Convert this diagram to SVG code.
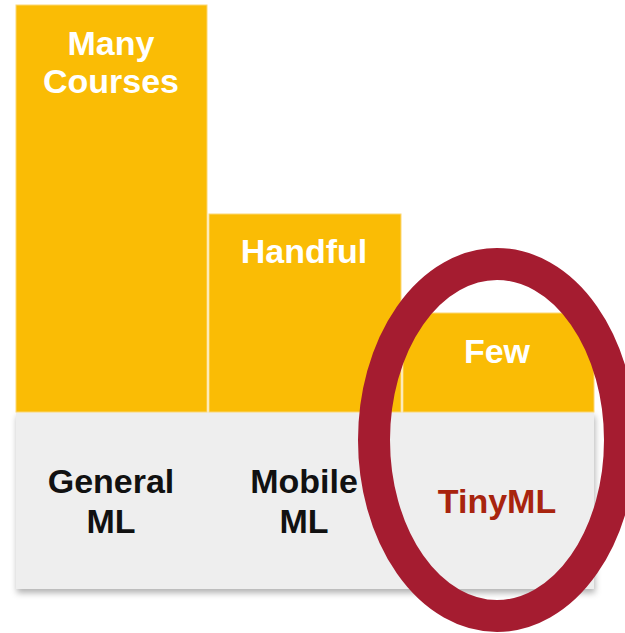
<svg xmlns="http://www.w3.org/2000/svg" width="625" height="633" viewBox="0 0 625 633">
  <defs>
    <filter id="shadow" x="-5%" y="-5%" width="115%" height="120%">
      <feDropShadow dx="1" dy="4" stdDeviation="3" flood-color="#000" flood-opacity="0.3"/>
    </filter>
    <style>
      .bar { fill: #FABC05; stroke: #FCD774; stroke-width: 1; }
      .count { font-family: "Liberation Sans", Arial, sans-serif; font-weight: bold; font-size: 34px; fill: #FFFFFF; text-anchor: middle; }
      .cat { font-family: "Liberation Sans", Arial, sans-serif; font-weight: bold; font-size: 34px; fill: #111111; text-anchor: middle; }
      .tiny { fill: #A8240E; }
    </style>
  </defs>

  <rect width="625" height="633" fill="#FFFFFF"/>

  <!-- category base panel -->
  <g id="base">
    <rect x="16" y="412" width="578" height="177" fill="#EEEEEE" filter="url(#shadow)"/>
  </g>

  <!-- bars -->
  <g id="bar-general">
    <rect class="bar" x="16" y="5" width="191" height="407"/>
    <text class="count" x="111" y="55">Many</text>
    <text class="count" x="111" y="93">Courses</text>
  </g>
  <g id="bar-mobile">
    <rect class="bar" x="209" y="214" width="192" height="198"/>
    <text class="count" x="304" y="263">Handful</text>
  </g>
  <g id="bar-tiny">
    <rect class="bar" x="403" y="313" width="191" height="99"/>
    <text class="count" x="497" y="363">Few</text>
  </g>

  <!-- category labels -->
  <g id="label-general">
    <text class="cat" x="111" y="493">General</text>
    <text class="cat" x="111" y="533">ML</text>
  </g>
  <g id="label-mobile">
    <text class="cat" x="304" y="493">Mobile</text>
    <text class="cat" x="304" y="533">ML</text>
  </g>
  <g id="label-tiny">
    <text class="cat tiny" x="497" y="513">TinyML</text>
  </g>

  <!-- highlight ring -->
  <g id="highlight">
    <ellipse cx="497" cy="440" rx="123" ry="176" fill="none" stroke="#A51C30" stroke-width="32"/>
  </g>
</svg>
